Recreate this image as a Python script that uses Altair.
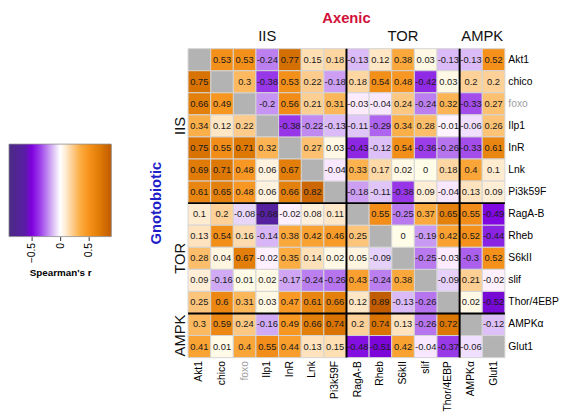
import altair as alt
import pandas as pd
import numpy as np

genes = ["Akt1", "chico", "foxo", "Ilp1", "InR", "Lnk", "Pi3k59F",
         "RagA-B", "Rheb", "S6kII", "slif", "Thor/4EBP", "AMPKα", "Glut1"]
gene_group = ["IIS"] * 7 + ["TOR"] * 5 + ["AMPK"] * 2
group_names = ["IIS", "TOR", "AMPK"]

# correlation matrix (rows top->bottom, cols left->right); None = diagonal / NA
r_akt1 = [None, 0.53, 0.53, -0.24, 0.77, 0.15, 0.18, -0.13, 0.12, 0.38, 0.03, -0.13, -0.13, 0.52]
r_chico = [0.75, None, 0.3, -0.38, 0.53, 0.22, -0.18, 0.18, 0.54, 0.48, -0.42, 0.03, 0.2, 0.2]
r_foxo = [0.66, 0.49, None, -0.2, 0.56, 0.21, 0.31, -0.03, -0.04, 0.24, -0.24, 0.32, -0.33, 0.27]
r_ilp1 = [0.34, 0.12, 0.22, None, -0.38, -0.22, -0.13, -0.11, -0.29, 0.34, 0.28, -0.01, -0.06, 0.26]
r_inr = [0.75, 0.55, 0.71, 0.32, None, 0.27, 0.03, -0.43, -0.12, 0.54, -0.36, -0.26, -0.33, 0.61]
r_lnk = [0.69, 0.71, 0.48, 0.06, 0.67, None, -0.04, 0.33, 0.17, 0.02, 0, 0.18, 0.4, 0.1]
r_pi3k = [0.61, 0.65, 0.48, 0.06, 0.66, 0.82, None, -0.18, -0.11, -0.38, 0.09, -0.04, 0.13, 0.09]
r_raga = [0.1, 0.2, -0.08, -0.68, -0.02, 0.08, 0.11, None, 0.55, -0.25, 0.37, 0.65, 0.55, -0.49]
r_rheb = [0.13, 0.54, 0.16, -0.14, 0.38, 0.42, 0.46, 0.25, None, 0, -0.19, 0.42, 0.52, -0.44]
r_s6k = [0.28, 0.04, 0.67, -0.02, 0.35, 0.14, 0.02, 0.05, -0.09, None, -0.25, -0.03, -0.3, 0.52]
r_slif = [0.09, -0.16, 0.01, 0.02, -0.17, -0.24, -0.26, 0.43, -0.24, 0.38, None, -0.09, 0.21, -0.02]
r_thor = [0.25, 0.6, 0.31, 0.03, 0.47, 0.61, 0.66, 0.12, 0.89, -0.13, -0.26, None, 0.02, -0.52]
r_ampk = [0.3, 0.59, 0.24, -0.16, 0.49, 0.66, 0.74, 0.2, 0.74, 0.13, -0.26, 0.72, None, -0.12]
r_glut = [0.41, 0.01, 0.4, 0.55, 0.44, 0.13, 0.15, -0.48, -0.51, 0.42, -0.04, -0.37, -0.06, None]
matrix = [r_akt1, r_chico, r_foxo, r_ilp1, r_inr, r_lnk, r_pi3k,
          r_raga, r_rheb, r_s6k, r_slif, r_thor, r_ampk, r_glut]

# colour scale
c_dom = [-0.9, -0.62, -0.5, -0.35, -0.2, -0.08, 0, 0.08, 0.2, 0.35, 0.5, 0.7, 0.9]
c_rng = ["#4a2c83", "#5a1ca6", "#7f00df", "#9d40ea", "#c694f2", "#e8d6f9", "#ffffff",
         "#fff0dc", "#fdd197", "#fbad43", "#f7941d", "#de7a05", "#c05a00"]
legend_ticks = [-0.5, 0, 0.5]

W, H = 322, 314
FONT = "Liberation Sans"

rows = []
for i, rname in enumerate(genes):
    for j, cname in enumerate(genes):
        v = matrix[i][j]
        rows.append({"row": rname, "col": cname,
                     "r": (np.nan if v is None else v),
                     "label": ("" if v is None else f"{v:g}")})
df = pd.DataFrame(rows)

color_scale = alt.Scale(domain=c_dom, range=c_rng, clamp=True)
label_color = {"condition": {"test": "datum.value === 'foxo'", "value": "#9e9e9e"},
               "value": "#000000"}
x_scale = alt.Scale(domain=genes, paddingInner=0, paddingOuter=0)
y_scale = alt.Scale(domain=genes, paddingInner=0, paddingOuter=0)
x_axis = alt.Axis(orient="bottom", labelAngle=-90, ticks=False, domain=False, title=None,
                  labelFontSize=10.5, labelPadding=3, labelColor=label_color,
                  labelFont=FONT, labelLimit=200)
y_axis = alt.Axis(orient="right", ticks=False, domain=False, title=None,
                  labelFontSize=10.5, labelPadding=3, labelColor=label_color,
                  labelFont=FONT, labelLimit=200)


def X(bp=0.5):
    return alt.X("col:N", sort=genes, scale=x_scale, axis=x_axis, bandPosition=bp)


def Y(bp=0.5):
    return alt.Y("row:N", sort=genes, scale=y_scale, axis=y_axis, bandPosition=bp)


base = alt.Chart(df)
na_cells = base.transform_filter("!isValid(datum.r)").mark_rect(
    fill="#b3b3b3", stroke="#d4d4d4", strokeWidth=1
).encode(x=alt.X("col:N", sort=genes, scale=x_scale, axis=x_axis),
         y=alt.Y("row:N", sort=genes, scale=y_scale, axis=y_axis))
cells = base.transform_filter("isValid(datum.r)").mark_rect(
    stroke="#d4d4d4", strokeWidth=1
).encode(x=alt.X("col:N", sort=genes, scale=x_scale, axis=x_axis),
         y=alt.Y("row:N", sort=genes, scale=y_scale, axis=y_axis),
         color=alt.Color("r:Q", scale=color_scale, legend=None))
texts = base.transform_filter("isValid(datum.r)").mark_text(
    fontSize=9.5, font=FONT, color="#1a1a1a"
).encode(x=alt.X("col:N", sort=genes, scale=x_scale, axis=x_axis),
         y=alt.Y("row:N", sort=genes, scale=y_scale, axis=y_axis),
         text="label:N")

layers = [na_cells, cells, texts]

# group boundaries and labels
for gi, g in enumerate(group_names):
    idxs = [k for k, gg in enumerate(gene_group) if gg == g]
    start, end = idxs[0], idxs[-1]
    mid = (start + end + 1) / 2
    idx = min(int(mid), len(genes) - 1)
    bp = mid - idx
    gdf = pd.DataFrame({"g": [g], "col": [genes[idx]], "row": [genes[idx]]})
    layers.append(alt.Chart(gdf).mark_text(fontSize=15, font=FONT, baseline="alphabetic",
                                           color="#111111")
                  .encode(x=X(bp), y=alt.value(-8), text="g:N"))
    layers.append(alt.Chart(gdf).mark_text(fontSize=15, font=FONT, baseline="alphabetic",
                                           angle=270, color="#111111")
                  .encode(y=Y(bp), x=alt.value(-3), text="g:N"))
    if gi > 0:
        bdf = pd.DataFrame({"col": [genes[start]], "row": [genes[start]]})
        layers.append(alt.Chart(bdf).mark_rule(color="black", strokeWidth=2)
                      .encode(x=X(0), y=alt.value(0), y2=alt.value(H)))
        layers.append(alt.Chart(bdf).mark_rule(color="black", strokeWidth=2)
                      .encode(y=Y(0), x=alt.value(0), x2=alt.value(W)))

title_df = pd.DataFrame({"t": ["Axenic"], "s": ["Gnotobiotic"]})
layers.append(alt.Chart(title_df).mark_text(fontSize=15, font=FONT, fontWeight="bold",
                                            color="#d0103a", baseline="alphabetic")
              .encode(x=alt.value(W / 2), y=alt.value(-26), text="t:N"))
layers.append(alt.Chart(title_df).mark_text(fontSize=15, font=FONT, fontWeight="bold",
                                            color="#1f1fc8", baseline="alphabetic", angle=270)
              .encode(x=alt.value(-27), y=alt.value(H / 2), text="s:N"))

heat = alt.layer(*layers).properties(width=W, height=H)

# colour legend (gradient bar using the colour scale's stops)
lo, hi = c_dom[0], c_dom[-1]
stops = [alt.GradientStop(offset=(d - lo) / (hi - lo), color=c) for d, c in zip(c_dom, c_rng)]
leg_df = pd.DataFrame({"x0": [lo], "x1": [hi], "b0": [0.0], "b1": [1.0]})
LEG_H = 191
legend = alt.Chart(leg_df).mark_rect(
    fill=alt.LinearGradient(gradient="linear", stops=stops, x1=0, x2=1, y1=0, y2=0),
    stroke="#8c8c8c", strokeWidth=0.8
).encode(
    x=alt.X("x0:Q", scale=alt.Scale(domain=[lo, hi], nice=False, zero=False),
            axis=alt.Axis(values=legend_ticks, labelAngle=-90, grid=False, domain=False,
                          tickSize=4, tickColor="#333333", labelFontSize=10.5,
                          labelFont=FONT, labelPadding=2, title="Spearman's r",
                          titleFont=FONT, titleFontSize=10, titleFontWeight="bold",
                          titlePadding=5, format="~g")),
    x2="x1:Q",
    y=alt.Y("b0:Q", scale=alt.Scale(domain=[0, 1], range=[LEG_H, LEG_H - 94]), axis=None),
    y2="b1:Q",
).properties(width=104, height=LEG_H)

chart = alt.hconcat(legend, heat, spacing=78, bounds="flush").properties(
    padding=0
).configure(font=FONT).configure_view(stroke=None)

chart.save("out.html", embed_options={"renderer": "svg", "actions": False})
